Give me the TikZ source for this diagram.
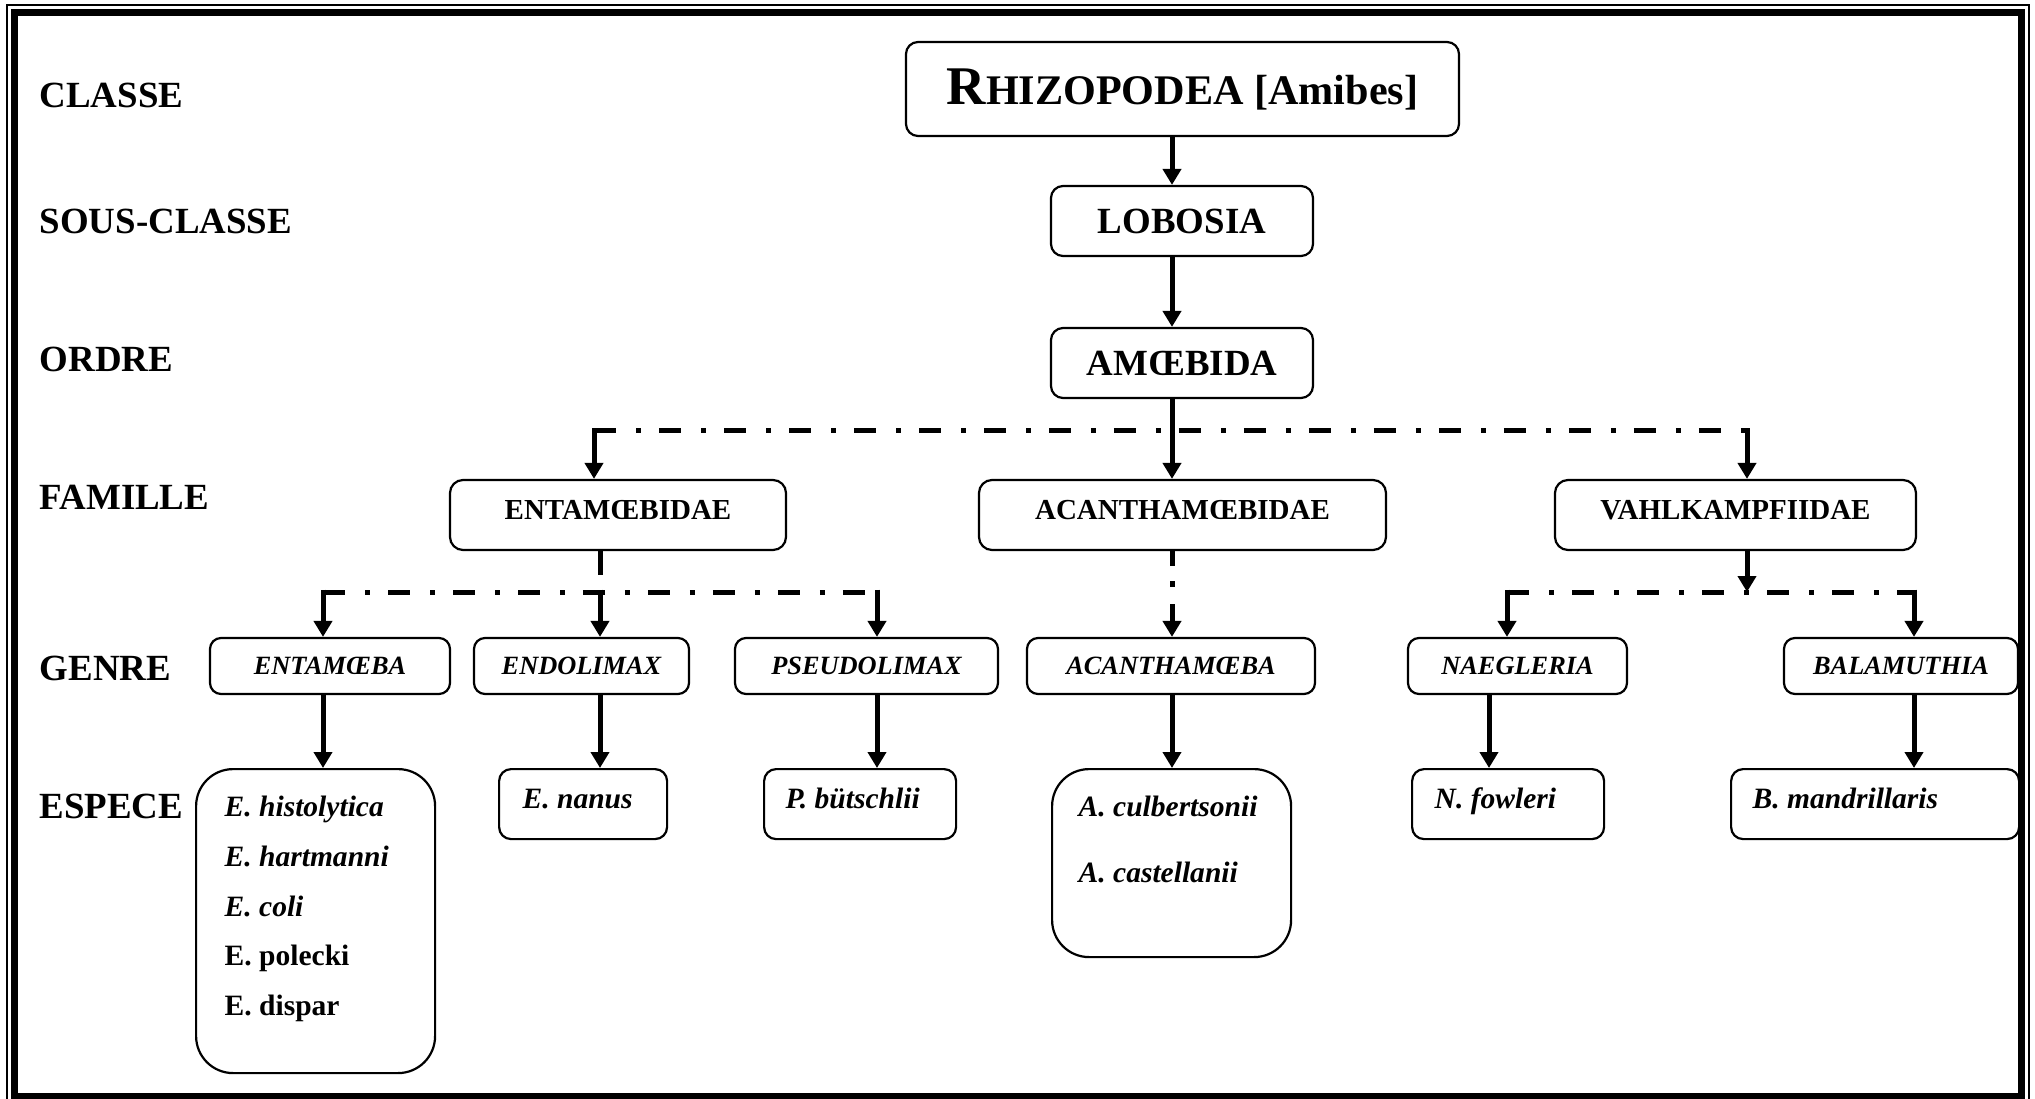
\documentclass[tikz,border=0pt]{standalone}
\usepackage{fontspec}
\setmainfont{Liberation Serif}
\usetikzlibrary{arrows.meta}

\begin{document}
\begin{tikzpicture}[x=0.1mm,y=-0.1mm,
	box/.style={draw,line width=0.22mm,rounded corners=1.2mm,inner sep=0pt},
	level/.style={anchor=west,inner sep=0pt,font=\fontsize{10.5}{12}\selectfont\bfseries},
	ordre/.style={box,minimum width=26.2mm,minimum height=7mm,font=\fontsize{10.5}{12}\selectfont\bfseries},
	fam/.style={box,minimum height=7mm,text depth=1mm,rounded corners=1.3mm,font=\fontsize{8.25}{10}\selectfont\bfseries},
	genre/.style={box,minimum height=5.6mm,rounded corners=1.1mm,font=\fontsize{7.5}{9}\selectfont\bfseries\itshape},
	spbox/.style={box,anchor=north west,minimum height=7mm},
	bigsp/.style={spbox,rounded corners=3.7mm},
	sptext/.style={anchor=north west,inner sep=0pt,align=left,font=\fontsize{8.4}{14.2}\selectfont\bfseries\itshape},
	arr/.style={line width=0.5mm,-{Triangle[length=1.6mm,width=1.8mm]}},
	stem/.style={line width=0.5mm},
	bus/.style={line width=0.5mm,dash pattern=on 2.2mm off 2mm on 0.5mm off 1.8mm},
	drop/.style={line width=0.5mm,dash pattern=on 1.5mm off 1.5mm on 0.6mm off 1.7mm on 5mm off 1mm}]
	\useasboundingbox (0,0) rectangle (2035,1099);
	\clip (0,0) rectangle (2035,1099);
	% cadre
	\draw[line width=0.2mm] (7,5) rectangle (2029,1106);
	\draw[line width=0.75mm] (14.5,12.5) rectangle (2021.5,1097);
	
	% niveaux
	\node[level] (classe) at (39,95) {CLASSE};
	\node[level] (sclasse) at (39,221) {SOUS-CLASSE};
	\node[level] (ordrelab) at (39,359) {ORDRE};
	\node[level] (famille) at (39,497) {FAMILLE};
	\node[level] (genrelab) at (39,668) {GENRE};
	\node[level] (espece) at (39,806) {ESPECE};
	
	\node[box,minimum width=55.3mm,minimum height=9.4mm] (rhizo) at (1182.5,89)
	{\bfseries\fontsize{15.5}{16}\selectfont R\fontsize{12}{14}\selectfont HIZOPODEA [Amibes]};
	\node[ordre] (lobo) at (1182,221) {LOBOSIA};
	\node[ordre] (amoeb) at (1182,363) {AMŒBIDA};
	
	\node[fam,minimum width=33.6mm] (ent) at (618,515) {ENTAMŒBIDAE};
	\node[fam,minimum width=40.7mm] (acan) at (1182.5,515) {ACANTHAMŒBIDAE};
	\node[fam,minimum width=36.1mm] (vahl) at (1735.5,515) {VAHLKAMPFIIDAE};
	
	\node[genre,minimum width=24mm] (entam) at (330,666) {ENTAMŒBA};
	\node[genre,minimum width=21.5mm] (endo) at (581.5,666) {ENDOLIMAX};
	\node[genre,minimum width=26.3mm] (pseudo) at (866.5,666) {PSEUDOLIMAX};
	\node[genre,minimum width=28.8mm] (acanth) at (1171,666) {ACANTHAMŒBA};
	\node[genre,minimum width=21.9mm] (naeg) at (1517.5,666) {NAEGLERIA};
	\node[genre,minimum width=23.4mm] (bala) at (1901,666) {BALAMUTHIA};
	
	\node[bigsp,minimum width=23.9mm,minimum height=30.4mm] (histo) at (195,768) {};
	\node[spbox,minimum width=16.8mm] (nanus) at (498,768) {};
	\node[spbox,minimum width=19.2mm] (butsch) at (763,768) {};
	\node[bigsp,minimum width=23.9mm,minimum height=18.8mm] (culb) at (1051,768) {};
	\node[spbox,minimum width=19.2mm] (fowl) at (1411,768) {};
	\node[spbox,minimum width=28.8mm] (mand) at (1730,768) {};
	
	\node[sptext] (histot) at ([shift={(29,27)}]histo.north west)
	{E. histolytica\\E. hartmanni\\E. coli\\{\upshape E. polecki}\\{\upshape E. dispar}};
	\node[sptext] (nanust) at ([shift={(24,20)}]nanus.north west) {E. nanus};
	\node[sptext] (butscht) at ([shift={(22,19)}]butsch.north west) {P. bütschlii};
	\node[sptext] (culbt) at ([shift={(27,27)}]culb.north west) {A. culbertsonii\\[1.6mm]A. castellanii};
	\node[sptext] (fowlt) at ([shift={(23,19)}]fowl.north west) {N. fowleri};
	\node[sptext] (mandt) at ([shift={(22,19)}]mand.north west) {B. mandrillaris};
	
	% lignes de branchement
	\coordinate (b1l) at (594,431);
	\coordinate (b1m) at (1172,431);
	\coordinate (b1r) at (1747,431);
	\coordinate (b2l) at (323,592);
	\coordinate (b2m) at (600,592);
	\coordinate (b2r) at (877,592);
	\coordinate (b3l) at (1507,592);
	\coordinate (b3m) at (1747,592);
	\coordinate (b3r) at (1914,592);
	\coordinate (n1) at (1489,592);% sortie naegleria
	
	\draw[arr] (rhizo.south -| b1m) -- (b1m |- lobo.north);
	\draw[arr] (lobo.south -| b1m) -- (b1m |- amoeb.north);
	\draw[stem] (amoeb.south -| b1m) -- (b1m);
	\draw[bus] (b1l) -- (b1r);
	\foreach \c/\n in {b1l/ent,b1m/acan,b1r/vahl}
	\draw[arr] ([yshift=0.25mm]\c) -- (\c |- \n.north);
	
	\draw[stem] (ent.south -| b2m) -- ([yshift=1.7mm]b2m);
	\draw[bus] (b2l) -- (b2r);
	\foreach \c/\n in {b2l/entam,b2m/endo,b2r/pseudo}
	\draw[arr] ([yshift=0.25mm]\c) -- (\c |- \n.north);
	
	\draw[drop,arr] (acan.south -| b1m) -- (b1m |- acanth.north);
	
	\draw[arr] (vahl.south -| b3m) -- (b3m);
	\draw[bus] (b3l) -- (b3r);
	\foreach \c/\n in {b3l/naeg,b3r/bala}
	\draw[arr] ([yshift=0.25mm]\c) -- (\c |- \n.north);
	
	% genre -> espece
	\foreach \c/\g/\s in {b2l/entam/histo,b2m/endo/nanus,b2r/pseudo/butsch,b1m/acanth/culb,n1/naeg/fowl,b3r/bala/mand}
	\draw[arr] (\g.south -| \c) -- (\c |- \s.north);
\end{tikzpicture}
\end{document}
